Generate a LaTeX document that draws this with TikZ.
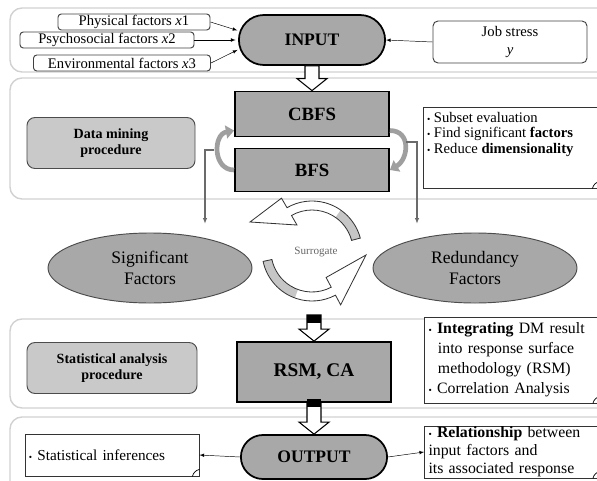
\documentclass[tikz,border=0pt]{standalone}
\usepackage{fontspec}
\setmainfont{Liberation Serif}
\usetikzlibrary{positioning, shapes.geometric, shapes.misc, arrows.meta, calc}

\definecolor{procgray}{gray}{0.66}
\definecolor{softgray}{gray}{0.79}
\definecolor{bandline}{gray}{0.82}

\newcommand{\bul}{{\footnotesize\textbullet}\ }
% hollow block arrow, from #1 down to the tip #2
\newcommand{\blockarrow}[2]{%
  \draw[line width=0.9pt, fill=white] ($(#1)+(-7,0)$) -- ($(#2)+(-7,-12)$) -- ($(#2)+(-15,-12)$)
    -- (#2) -- ($(#2)+(15,-12)$) -- ($(#2)+(7,-12)$) -- ($(#1)+(7,0)$) -- cycle;}

\begin{document}
\begin{tikzpicture}[x=0.03cm, y=-0.03cm,
myband/.style={draw=bandline, line width=1.2pt, rounded corners=3.6mm},
myterm/.style={rounded rectangle, draw, line width=1.5pt, fill=procgray,
  minimum width=46.2mm, minimum height=15mm,
  font=\bfseries\fontsize{15}{18}\selectfont},
myproc/.style={rectangle, draw, line width=1.5pt, fill=procgray,
  minimum width=46.2mm, font=\bfseries\fontsize{16}{19}\selectfont},
mylabel/.style={rectangle, rounded corners=2.4mm, draw=black!70, line width=0.8pt,
  fill=softgray, minimum width=50.4mm, minimum height=15.3mm, align=center,
  font=\bfseries\fontsize{12}{14}\selectfont},
myfactor/.style={rectangle, rounded corners=1mm, draw=black!75, line width=0.8pt,
  fill=white, minimum height=4.8mm, inner sep=0pt,
  font=\fontsize{12.5}{14}\selectfont},
mynote/.style={rectangle, draw=black!80, line width=0.7pt, fill=white,
  align=left, inner xsep=1.2mm},
myellipse/.style={ellipse, draw=black!70, line width=0.8pt, fill=procgray,
  minimum width=61.2mm, minimum height=21mm, align=center,
  font=\fontsize{15}{18}\selectfont},
mycurve/.style={draw=gray!75, line width=4pt, -{Triangle[length=7pt, width=11pt]}},
mygrayline/.style={draw=black!58, line width=1.3pt, -{Latex[length=5pt]}},
mycycle/.style={draw=black!80, line width=0.7pt},
>=latex
]
\clip (0,0) rectangle (597,480);

% bands
\draw[myband] (10,8) rectangle (612,72);
\draw[myband] (10,78) rectangle (612,199);
\draw[myband] (10,319) rectangle (612,408);
\draw[myband] (10,417) rectangle (612,500);

% input
\node[myterm] (input) at (312,40) {INPUT};
\node[myfactor, minimum width=45.6mm] (phys) at (134,22)
    {Physical factors \textit{x}1};
\node[myfactor, minimum width=52.2mm] (psy) at (107,40)
    {Psychosocial factors \textit{x}2};
\node[myfactor, minimum width=53.1mm] (env) at (122,63)
    {Environmental factors \textit{x}3};
\node[myfactor, rounded corners=1.5mm, minimum width=46.2mm, minimum height=12.6mm, align=center] (job) at (510,42)
    {Job stress\\[1pt]\textit{y}};

\draw[->, shorten >=2pt] (phys.east) -- (input.173);
\draw[->, shorten >=2pt] (psy.east) -- (input.west);
\draw[->, shorten >=2pt] (env.east) -- (input.187);
\draw[->] (job.west) -- (input.east);

% data mining
\node[myproc, minimum height=13.5mm] (cbfs) at (312,114) {CBFS};
\node[myproc, minimum height=12.9mm] (bfs) at (312,170) {BFS};
\node[mylabel] (dm) at (111,143) {Data mining\\procedure};
\node[mynote, inner ysep=3.5pt, font=\fontsize{12.5}{13.2}\selectfont] (sel) at (511,148)
    {\parbox[c][21.6mm][t]{50.4mm}{\raggedright\bul Subset evaluation\\ \bul Find significant \textbf{factors}\\ \bul Reduce \textbf{dimensionality}}};

\blockarrow{input.south}{cbfs.north}

\draw[mycurve] (bfs.west) to[out=180, in=190, looseness=1.4] (cbfs.192);
\draw[mycurve] (cbfs.-12) to[out=0, in=30, looseness=1.4] (bfs.east);

\node[myellipse] (sig) at (150,268) {Significant\\Factors};
\node[myellipse] (red) at (475,268) {Redundancy\\Factors};

\coordinate (lfork) at (214,150);
\coordinate (ltip) at (205,224);
\coordinate (rfork) at (406,142);
\coordinate (rtip) at (417,224);
\draw[mygrayline] (lfork) -| (ltip);
\draw[mygrayline] (rfork) -| (rtip);

% surrogate cycle
\begin{scope}[shift={(312,251)}, yscale=-1]
\fill[gray!45] (15:50) arc[start angle=15, end angle=55, radius=50]
    -- (55:41) arc[start angle=55, end angle=15, radius=41] -- cycle;
\draw[mycycle] (15:50) arc[start angle=15, end angle=120, radius=50]
    -- (120:61) -- (-62,29) -- (120:30) -- (120:41)
    arc[start angle=120, end angle=15, radius=41] -- cycle;
\fill[gray!45] (192:50) arc[start angle=192, end angle=250, radius=50]
    -- (250:41) arc[start angle=250, end angle=192, radius=41] -- cycle;
\draw[mycycle] (192:50) arc[start angle=192, end angle=298, radius=50]
    -- (298:61) -- (54,-4) -- (298:30) -- (298:41)
    arc[start angle=298, end angle=192, radius=41] -- cycle;
\end{scope}
\node[font=\fontsize{9.5}{11}\selectfont, text=black!60] (sur) at (316,252) {Surrogate};

% statistical analysis
\node[mylabel, minimum width=51mm] (sap) at (112,368) {Statistical analysis\\procedure};
\node[myproc, minimum height=18mm, font=\bfseries\fontsize{16.5}{19}\selectfont] (rsm) at (314,372) {RSM, CA};
\node[mynote, text width=50.1mm, minimum height=25.8mm, inner ysep=1pt, font=\fontsize{13.5}{17}\selectfont] (dmr) at (512,360)
    {\bul\textbf{Integrating} DM result\\ \hspace*{0.6em}into response surface\\ \hspace*{0.6em}methodology (RSM)\\ \bul Correlation Analysis};

\coordinate (cyc) at (314,315);
\blockarrow{cyc}{rsm.north}
\fill ($(cyc)+(-7,0)$) rectangle ($(cyc)+(7,8)$);

% output
\node[myterm, minimum height=13.2mm] (output) at (314,457) {OUTPUT};
\node[mynote, text width=49.8mm, minimum height=12.6mm, font=\fontsize{13}{15}\selectfont] (inf) at (112,455)
    {\bul Statistical inferences};
\node[mynote, text width=50.1mm, minimum height=15.6mm, inner ysep=0.5pt, font=\fontsize{13.5}{15.5}\selectfont] (rel) at (512,452)
    {\bul\textbf{Relationship} between\\input factors and\\its associated response};

\blockarrow{rsm.south}{output.north}
\fill ($(rsm.south)+(-7,-4)$) rectangle ($(rsm.south)+(7,4)$);

\draw[->] (output.west) -- (inf.east);
\draw[->] (output.east) -- (rel.west);

\foreach \n in {sel, dmr, inf, rel}
  \draw[line width=0.6pt] ([xshift=-6pt]\n.south east) to[bend left=30] ([yshift=6pt]\n.south east);
\end{tikzpicture}
\end{document}
